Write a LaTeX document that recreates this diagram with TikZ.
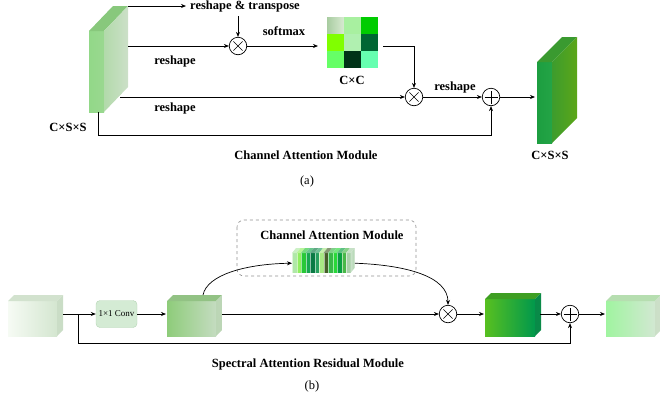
\documentclass[tikz,border=0pt]{standalone}
\usepackage{fontspec}
\setmainfont{Liberation Serif}
\usetikzlibrary{arrows.meta}
% cube colours: FL/FR front left/right, T top, SL/SR side left/right
\definecolor{aFL}{HTML}{92D888}\definecolor{aFR}{HTML}{9AD890}\definecolor{aT}{HTML}{88C87C}
\definecolor{aSL}{HTML}{A2D698}\definecolor{aSR}{HTML}{CCE0C8}
\definecolor{oFL}{HTML}{1C9E40}\definecolor{oFR}{HTML}{24A446}\definecolor{oT}{HTML}{3A9A30}
\definecolor{oSL}{HTML}{2A963A}\definecolor{oSR}{HTML}{5CA618}
\definecolor{iFL}{HTML}{F6FBF4}\definecolor{iFR}{HTML}{D4E6D0}\definecolor{iT}{HTML}{D2E2CE}
\definecolor{iSL}{HTML}{C6DAC2}\definecolor{iSR}{HTML}{CADDC6}
\definecolor{cFL}{HTML}{8ECC7A}\definecolor{cFR}{HTML}{C4DCC0}\definecolor{cT}{HTML}{92C284}
\definecolor{cSL}{HTML}{B6D2B0}\definecolor{cSR}{HTML}{BCD6B6}
\definecolor{dFL}{HTML}{58C020}\definecolor{dFR}{HTML}{00984C}\definecolor{dT}{HTML}{3E9E22}
\definecolor{dSL}{HTML}{00864A}\definecolor{dSR}{HTML}{0A8A48}
\definecolor{eFL}{HTML}{A0F4A0}\definecolor{eFR}{HTML}{D2E8D2}\definecolor{eT}{HTML}{B6DEB0}
\definecolor{eSL}{HTML}{C6DCC2}\definecolor{eSR}{HTML}{CCDFC8}
\definecolor{convfill}{HTML}{D4EBD4}\definecolor{convdraw}{HTML}{B4D4B4}
% matrix colours
\definecolor{mA}{HTML}{A8CCA0}\definecolor{mAA}{HTML}{D8EAD2}
\definecolor{mB}{HTML}{A8F0A0}\definecolor{mC}{HTML}{00CC00}
\definecolor{mD}{HTML}{80FF00}\definecolor{mE}{HTML}{B0F0B0}\definecolor{mF}{HTML}{006633}
\definecolor{mG}{HTML}{66FF66}\definecolor{mH}{HTML}{003318}\definecolor{mI}{HTML}{66FFB0}
% slice colours
\definecolor{s1}{HTML}{B0E8A8}\definecolor{s2}{HTML}{90EE60}\definecolor{s3}{HTML}{28C838}
\definecolor{s4}{HTML}{18A850}\definecolor{s5}{HTML}{0A7A44}\definecolor{s6}{HTML}{28A060}
\definecolor{s7}{HTML}{A8E884}\definecolor{s8}{HTML}{46602A}\definecolor{s9}{HTML}{38B848}
\definecolor{s10}{HTML}{28D838}\definecolor{s11}{HTML}{08A040}\definecolor{s12}{HTML}{48B848}
\definecolor{s13}{HTML}{A8D0A8}
\definecolor{dashc}{HTML}{909090}
\newcommand\mycube[8]{%
  \shade[left color=#7FL, right color=#7FR] (#1,#2) rectangle ++(#3,#4);
  \fill[#7T] (#1,#2) -- ++(#5,-#6) -- ++(#3,0) -- ++(-#5,#6) -- cycle;
  \shade[left color=#7SL, right color=#7SR] (#1,#2) ++(#3,0) -- ++(#5,-#6) -- ++(0,#4) -- ++(-#5,#6) -- cycle;
  \node[inner sep=0, minimum width=#3pt, minimum height=#4pt, anchor=north west] (#8) at (#1,#2) {};
}
\newcommand\myslice[2]{% x, colour
  \fill[#2] (#1,253) rectangle ++(4.5,20);
  \fill[#2!45!white] (#1,253) rectangle ++(1.3,20);
  \fill[#2!65!white] (#1,253) -- ++(4,-5) -- ++(4.5,0) -- ++(-4,5) -- cycle;
}
\begin{document}
\begin{tikzpicture}[x=1pt,y=-1pt,
  arr/.style={-{Stealth[length=5pt,width=4pt]}, line width=0.7pt},
  ln/.style={line width=0.7pt},
  lbl/.style={font=\bfseries\fontsize{12.5}{14}\selectfont, inner sep=0},
  captxt/.style={font=\fontsize{12.5}{14}\selectfont, inner sep=0},
  op/.style={circle, draw, line width=0.7pt, minimum size=17.5pt, inner sep=0, fill=white},
  timesop/.style={op, path picture={
     \draw[line width=0.6pt] ([xshift=-4.6pt,yshift=-4.6pt]path picture bounding box.center) -- ([xshift=4.6pt,yshift=4.6pt]path picture bounding box.center);
     \draw[line width=0.6pt] ([xshift=-4.6pt,yshift=4.6pt]path picture bounding box.center) -- ([xshift=4.6pt,yshift=-4.6pt]path picture bounding box.center);}},
  plusop/.style={op, path picture={
     \draw[line width=0.6pt] ([xshift=-6.5pt]path picture bounding box.center) -- ([xshift=6.5pt]path picture bounding box.center);
     \draw[line width=0.6pt] ([yshift=-6.5pt]path picture bounding box.center) -- ([yshift=6.5pt]path picture bounding box.center);}},
]
\useasboundingbox (0,0) rectangle (660,400);

% ===================== (a) =====================
\mycube{89}{31}{15}{81}{24}{25}{a}{slab}
\coordinate (slTop) at (128,6);
\coordinate (slMid) at (128,46);
\coordinate (slLow) at (120,97);
\coordinate (slBot) at (98,112);

\node[lbl, anchor=west] (rt) at (190,6) {reshape \& transpose};
\node[timesop] (m1) at (238,46) {};
\coordinate (rtDown) at (238,16);
\draw[arr, shorten >=4pt] (slTop) -- (rt.west);
\draw[arr] (rtDown) -- (m1.north);
\draw[arr] (slMid) -- (m1.west);
\node[lbl] (l1) at (175,61) {reshape};

% matrix
\node[inner sep=0, minimum size=51pt, anchor=north west] (mat) at (327,17) {};
\shade[left color=mA, right color=mAA] (327,17) rectangle ++(17,17);
\fill[mB] (344,17) rectangle ++(17,17);
\fill[mC] (361,17) rectangle ++(17,17);
\fill[mD] (327,34) rectangle ++(17,17);
\fill[mE] (344,34) rectangle ++(17,17);
\fill[mF] (361,34) rectangle ++(17,17);
\fill[mG] (327,51) rectangle ++(17,17);
\fill[mH] (344,51) rectangle ++(17,17);
\fill[mI] (361,51) rectangle ++(17,17);
\draw[arr, shorten >=9pt] (m1.east) -- (mat.west |- m1.east);
\node[lbl] (sm) at (284,31) {softmax};
\node[lbl] (cc) at (352,80) {C×C};

\node[timesop] (m2) at (414,97) {};
\node[plusop] (p1) at (491,97) {};
\draw[arr, shorten <=5pt] (mat.east |- m1.east) -| (m2.north);
\draw[arr] (slLow) -- (m2.west);
\node[lbl] (l2) at (175,108) {reshape};
\draw[arr] (m2.east) -- (p1.west);
\node[lbl] (l3) at (455,87) {reshape};
\draw[arr] (slBot) |- (491,135) -- (p1.south);

\mycube{537}{62}{15}{81}{25}{25}{o}{outs}
\draw[arr, shorten >=2pt] (p1.east) -- (outs.west |- p1.east);

\node[lbl] (csl) at (68,127) {C×S×S};
\node[lbl] (csr) at (550,155) {C×S×S};
\node[lbl] (cam) at (306,155) {Channel Attention Module};
\node[captxt] (capa) at (307,181) {(a)};

% ===================== (b) =====================
\draw[dashc, dashed, line width=0.6pt, rounded corners=7pt] (237,220) rectangle (416,276);
\node[lbl] (cam2) at (332,235) {Channel Attention Module};
\node[inner sep=0, minimum width=62.5pt, minimum height=20pt, anchor=north west] (stack) at (292,253) {};
\myslice{292.0}{s1}
\myslice{296.5}{s2}
\myslice{301.0}{s3}
\myslice{305.5}{s4}
\myslice{310.0}{s5}
\myslice{314.5}{s6}
\myslice{319.0}{s7}
\myslice{323.5}{s8}
\myslice{328.0}{s9}
\myslice{332.5}{s10}
\myslice{337.0}{s11}
\myslice{341.5}{s12}
\myslice{346.0}{s13}
\shade[left color=s13!60!white, right color=s13!90!white] (350.5,253) -- ++(4,-5) -- ++(0,20) -- ++(-4,5) -- cycle;

\mycube{8}{301}{49}{35}{6}{6}{i}{cin}
\node[draw=convdraw, fill=convfill, rounded corners=4pt, minimum width=41pt, minimum height=27pt, inner sep=0,
      font=\fontsize{9}{10}\selectfont] (conv) at (116.5,314) {1×1 Conv};
\mycube{167}{301}{49}{35}{6}{6}{c}{c2}
\mycube{485}{299}{50}{37}{6}{6}{d}{c3}
\mycube{606}{301}{49}{35}{6}{6}{e}{c4}

\node[timesop] (m3) at (448,314) {};
\node[plusop] (p2) at (570,314) {};
\coordinate (cinR) at (63,314);
\coordinate (br) at (78,314);
\coordinate (c2R) at (222,314);
\coordinate (c3R) at (540,314);
\coordinate (c4L) at (605,314);
\coordinate (c2top) at (203,295);

\draw[arr] (cinR) -- (conv.west);
\draw[arr, shorten >=1pt] (conv.east) -- (c2.west |- conv.east);
\draw[arr] (c2R) -- (m3.west);
\draw[arr, shorten >=1pt] (m3.east) -- (c3.west |- m3.east);
\draw[arr] (c3R) -- (p2.west);
\draw[arr] (p2.east) -- (c4L);
\draw[arr] (br) |- (570,343) -- (p2.south);
\draw[arr] (c2top) .. controls (207,275) and (245,264) .. (stack.west);
\draw[arr] (stack.east) .. controls (405,265) and (448,276) .. (m3.north);

\node[lbl] (sarm) at (308,364) {Spectral Attention Residual Module};
\node[captxt] (capb) at (312,386) {(b)};
\end{tikzpicture}
\end{document}
